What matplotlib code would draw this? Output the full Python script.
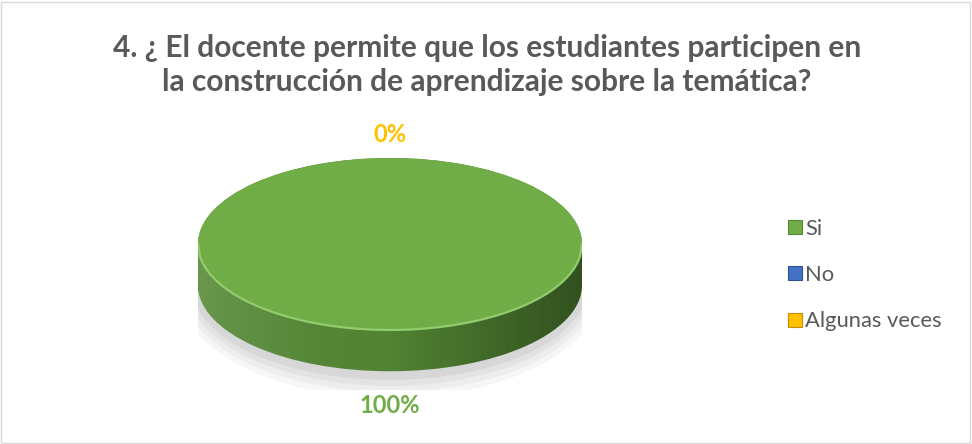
import numpy as np
import matplotlib
matplotlib.use("Agg")
import matplotlib.pyplot as plt
from matplotlib.patches import Rectangle, Polygon, Ellipse
from matplotlib.lines import Line2D
from matplotlib.colors import LinearSegmentedColormap

categories = ["Si", "No", "Algunas veces"]
values = [100, 0, 0]
pct_labels = ["100%", "0%", "0%"]
colors = ["#70AD47", "#4472C4", "#FFC000"]
side_colors = ["#558A35", "#2F5597", "#BF9000"]
title = "4. ¿ El docente permite que los estudiantes participen en\nla construcción de aprendizaje sobre la temática?"

W, H = 972, 444
fig = plt.figure(figsize=(W / 100, H / 100), dpi=100)
fig.patch.set_facecolor("white")
fig.add_artist(Rectangle((1 / W, 1 / H), 1 - 3 / W, 1 - 3 / H, transform=fig.transFigure,
                         fill=False, edgecolor="#D9D9D9", linewidth=1))

fig.text(487 / W, 1 - 65 / H, title, ha="center", va="center", fontsize=21.5,
         fontweight="bold", color="#595959", family="Lato", linespacing=1.28)

# pie axes: x 198..582 px, y 150..390 px
ax = fig.add_axes([198 / W, 1 - 390 / H, 384 / W, 240 / H])
ylo, yhi = -1.698, 1.093
depth = 0.48

# soft shadow
for i, a in enumerate([0.035, 0.035, 0.04, 0.05]):
    ax.add_patch(Ellipse((0.0, -depth - 0.03), 2.0 + 0.05 * (4 - i), 2.0 + 0.14 * (4 - i),
                         facecolor="black", alpha=a, edgecolor="none", zorder=0))

# side (stacked pie layers)
for d in np.linspace(depth, 0.0, 30):
    ax.pie(values, colors=side_colors, startangle=90, counterclock=False,
           center=(0, -d), radius=1.0, wedgeprops=dict(linewidth=0), frame=False)

# gradient overlay on side
xs = np.linspace(-1, 1, 200)
top_lower = -np.sqrt(np.clip(1 - xs ** 2, 0, None))
poly = np.vstack([np.column_stack([xs, top_lower]),
                  np.column_stack([xs[::-1], top_lower[::-1] - depth])])
clip = Polygon(poly, closed=True, transform=ax.transData, facecolor="none", edgecolor="none")
ax.add_patch(clip)
grad = np.linspace(0, 1, 256)[None, :]
cmap = LinearSegmentedColormap.from_list("g", [(1, 1, 1, 0.12), (0, 0, 0, 0.05), (0, 0, 0, 0.42)])
im = ax.imshow(grad, extent=(-1, 1, -1 - depth, 0), cmap=cmap, aspect="auto", zorder=3)
im.set_clip_path(clip)

# top face
wedges, _ = ax.pie(values, colors=colors, startangle=90, counterclock=False,
                   center=(0, 0), radius=1.0, wedgeprops=dict(linewidth=0), frame=False)
for w in wedges:
    w.set_zorder(4)
# rim highlight along the front edge
ax.plot(xs, top_lower, color="#92CC6C", linewidth=1.6, zorder=5, solid_capstyle="round")

ax.set_aspect("auto")
ax.set_xlim(-1, 1)
ax.set_ylim(ylo, yhi)
ax.axis("off")

# data labels
fig.text(390 / W, 1 - 135 / H, pct_labels[1], ha="center", va="center", fontsize=17,
         fontweight="bold", color=colors[2], family="Lato")
fig.text(390 / W, 1 - 405 / H, pct_labels[0], ha="center", va="center", fontsize=17,
         fontweight="bold", color=colors[0], family="Lato")

handles = [Line2D([0], [0], marker="s", linestyle="none", markersize=10,
                  markerfacecolor=c, markeredgecolor=sc, markeredgewidth=0.8)
           for c, sc in zip(colors, side_colors)]
leg = fig.legend(handles, categories, loc="upper left", bbox_to_anchor=(769 / W, 1 - 199 / H),
                 frameon=False, handlelength=0.6, handletextpad=0.15, labelspacing=1.2,
                 prop=dict(family="Lato", size=15.8))
for t in leg.get_texts():
    t.set_color("#595959")

fig.savefig("out.png", dpi=100, facecolor="white")
